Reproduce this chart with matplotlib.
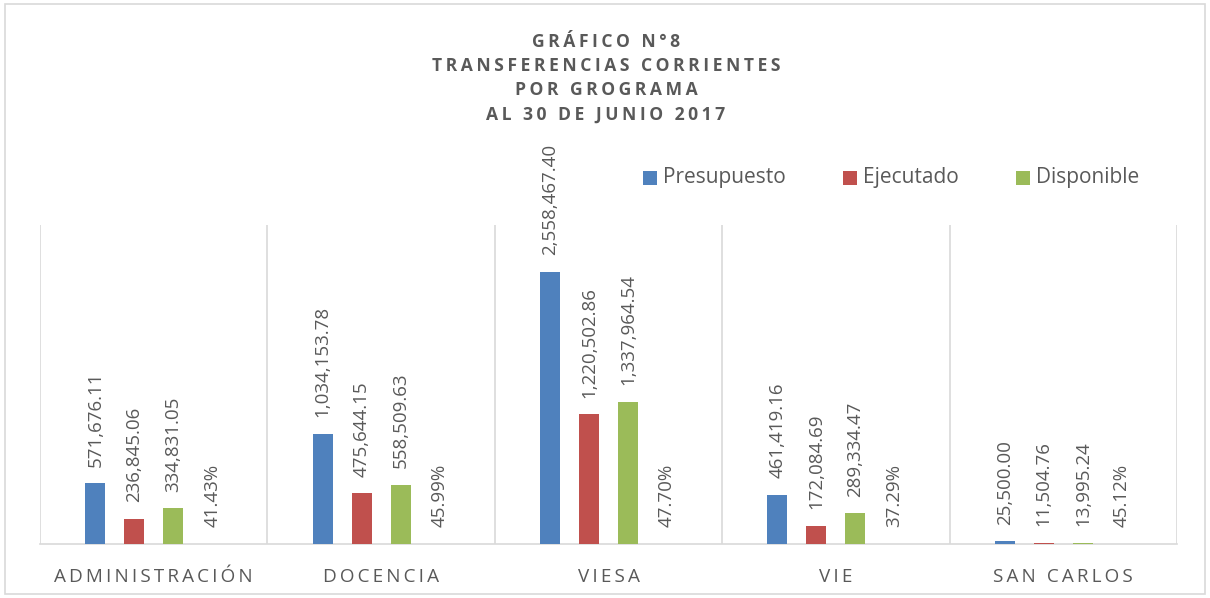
import matplotlib
matplotlib.use("Agg")
import matplotlib.pyplot as plt
import numpy as np
from matplotlib.patches import Rectangle

categories = ["ADMINISTRACIÓN", "DOCENCIA", "VIESA", "VIE", "SAN CARLOS"]
presupuesto = [571676.11, 1034153.78, 2558467.40, 461419.16, 25500.00]
ejecutado = [236845.06, 475644.15, 1220502.86, 172084.69, 11504.76]
disponible = [334831.05, 558509.63, 1337964.54, 289334.47, 13995.24]
porcentaje = [41.43, 45.99, 47.70, 37.29, 45.12]

series_names = ["Presupuesto", "Ejecutado", "Disponible"]
colors = ["#4F81BD", "#C0504D", "#9BBB59"]
title_lines = ["GRÁFICO N°8", "TRANSFERENCIAS CORRIENTES", "POR GROGRAMA", "AL 30 DE JUNIO 2017"]

TXT = "#595959"
GRID = "#D9D9D9"
FAM = ["Open Sans", "DejaVu Sans"]

W, H = 1210, 598
fig = plt.figure(figsize=(W / 100, H / 100), dpi=100)
fig.patch.set_facecolor("white")
# outer chart border
fig.add_artist(Rectangle((5 / W, 4 / H), 1200 / W, 590 / H, transform=fig.transFigure,
                         fill=False, edgecolor=GRID, linewidth=1.2))

left, right = 40 / W, 1177 / W
bottom, top = (H - 544) / H, (H - 225) / H
ax = fig.add_axes([left, bottom, right - left, top - bottom])

x = np.arange(len(categories))
bw = 0.088
offsets = [-0.257, -0.086, 0.086, 0.257]

def spaced(s, sep="\u2009"):
    return sep.join(list(s))

for vals, off, col in zip([presupuesto, ejecutado, disponible], offsets[:3], colors):
    ax.bar(x + off, vals, width=bw, color=col, zorder=3)
    for xi, v in zip(x + off, vals):
        ax.annotate(f"{v:,.2f}", (xi, v), xytext=(0, 12), textcoords="offset points",
                    rotation=90, ha="center", va="bottom", fontsize=13.5,
                    color=TXT, family=FAM)

ax.bar(x + offsets[3], porcentaje, width=bw, color="none", zorder=3)
for xi, v in zip(x + offsets[3], porcentaje):
    ax.annotate(f"{v:.2f}%", (xi, v), xytext=(0, 12), textcoords="offset points",
                rotation=90, ha="center", va="bottom", fontsize=13.5,
                color=TXT, family=FAM)

ax.set_xlim(-0.5, len(categories) - 0.5)
ax.set_ylim(0, 3000000)
for b in np.arange(-0.5, len(categories) + 0.5, 1.0):
    ax.axvline(b, color=GRID, linewidth=1.2, zorder=1)
for s in ["top", "right", "left"]:
    ax.spines[s].set_visible(False)
ax.spines["bottom"].set_color(GRID)
ax.spines["bottom"].set_linewidth(1.2)
ax.set_yticks([])
ax.set_xticks(x)
ax.set_xticklabels([spaced(c, "\u2009") for c in categories], fontsize=13.6, color=TXT,
                   family=FAM)
ax.tick_params(axis="x", length=0, pad=17)

# title
ys = [42, 66, 90, 115]
for line, yy in zip(title_lines, ys):
    fig.text(606 / W, 1 - yy / H, spaced(line, "\u2009"), ha="center", va="center",
             fontsize=12.6, fontweight="bold", color=TXT, family=FAM)

# legend
leg_x = [643, 843, 1016]
for name, col, lx in zip(series_names, colors, leg_x):
    fig.add_artist(Rectangle((lx / W, 1 - 185 / H), 14 / W, 14 / H,
                             transform=fig.transFigure, facecolor=col, edgecolor="none"))
    fig.text((lx + 20) / W, 1 - 178 / H, name, ha="left", va="center",
             fontsize=15, color=TXT, family=FAM)

fig.savefig("out.png", dpi=100, facecolor="white")
